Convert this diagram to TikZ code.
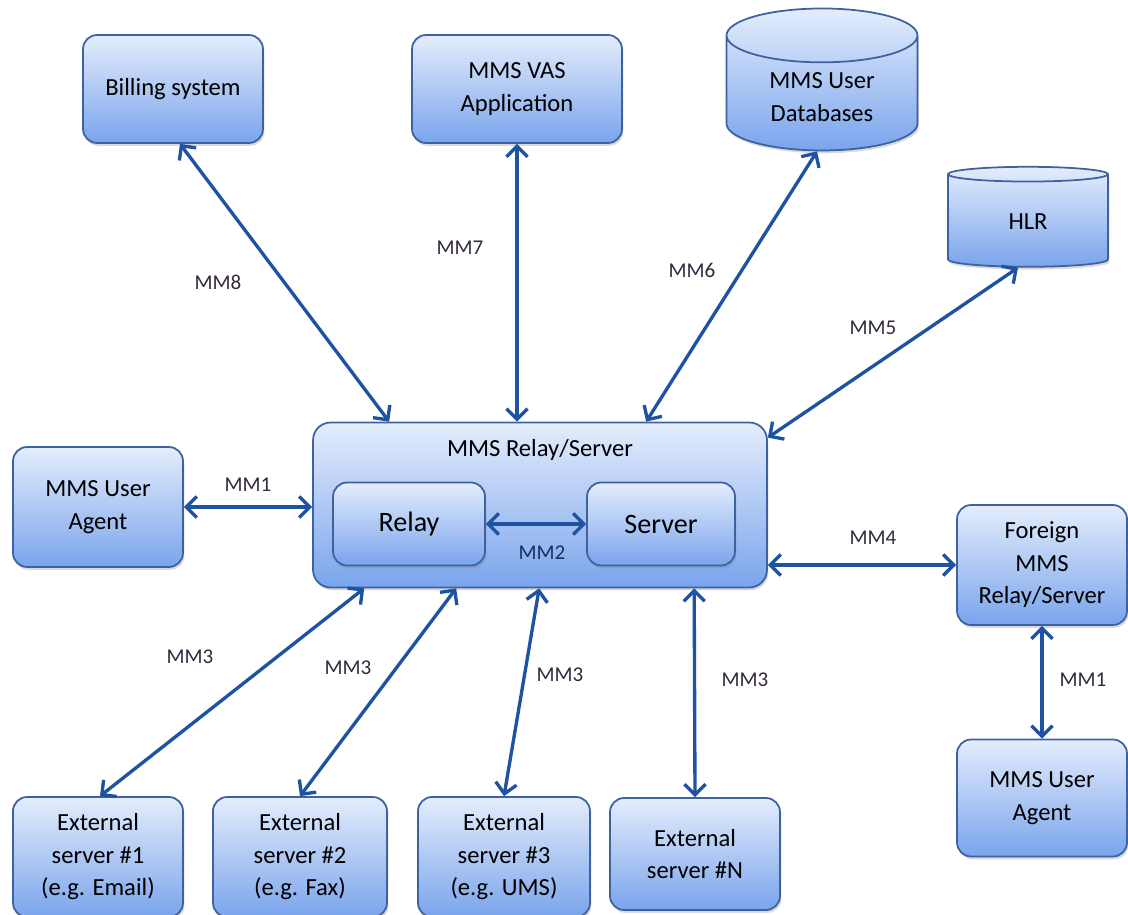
\documentclass[tikz,border=0pt]{standalone}
\usepackage{fontspec}
\setmainfont{Carlito}
\usetikzlibrary{shapes.geometric, arrows.meta, shadows, calc}
\definecolor{boxtop}{RGB}{228,237,252}
\definecolor{boxbot}{RGB}{122,164,236}
\definecolor{boxline}{RGB}{62,98,160}
\definecolor{linkblue}{RGB}{30,82,162}
\definecolor{tagink}{RGB}{52,40,62}
\tikzset{
  font=\fontsize{14}{18.5}\selectfont,           % box text
  unit/.style       = {rectangle, rounded corners=8pt, draw=boxline,
                       line width=1pt, top color=boxtop, bottom color=boxbot,
                       align=center, inner sep=2pt,
                       drop shadow={opacity=0.3, shadow xshift=0.8pt, shadow yshift=-1.6pt}},
  store/.style      = {cylinder, shape border rotate=90, draw=boxline,
                       line width=1pt, top color=boxtop, bottom color=boxbot,
                       align=center, inner sep=2pt,
                       drop shadow={opacity=0.3, shadow xshift=0.8pt, shadow yshift=-1.6pt}},
  link/.style       = {{Straight Barb[length=6pt,width=12pt]}-{Straight Barb[length=6pt,width=12pt]},
                       line width=1.9pt, draw=linkblue},
  tag/.style        = {font=\fontsize{12}{14}\selectfont, text=tagink}
}

\begin{document}
\begin{tikzpicture}[x=0.02cm, y=-0.02cm]
  \useasboundingbox (0,0) rectangle (1128,915);
  % top row
  \node[unit, minimum width=3.6cm, minimum height=2.16cm] (bill) at (173,89) {Billing system};
  \node[unit, minimum width=4.2cm, minimum height=2.16cm] (vas) at (517,89) {MMS VAS\\Application};
  \node[store, minimum width=3.82cm, minimum height=2.84cm, aspect=0.48] (db) at (822,97) {MMS User\\Databases};
  \node[store, minimum width=3.2cm, minimum height=2.0cm, aspect=0.32] (hlr) at (1028,222) {HLR};
  % relay/server
  \node[unit, rounded corners=10pt, minimum width=9.08cm, minimum height=3.3cm] (mmsc) at (540,505) {};
  \node (title) at (540,450) {MMS Relay/Server};
  \node[unit, font=\fontsize{16}{19}\selectfont, minimum width=3.04cm, minimum height=1.66cm] (relay) at (409,524) {Relay};
  \node[unit, font=\fontsize{16}{19}\selectfont, minimum width=2.96cm, minimum height=1.66cm] (server) at (661,524) {Server};
  \node[unit, minimum width=3.4cm, minimum height=2.4cm] (ua) at (98,507) {MMS User\\Agent};
  \node[unit, minimum width=3.4cm, minimum height=2.4cm] (foreign) at (1042,565) {Foreign\\MMS\\Relay/Server};
  \node[unit, minimum width=3.4cm, minimum height=2.34cm] (ua2) at (1042,798) {MMS User\\Agent};
  % external servers
  \node[unit, minimum width=3.4cm, minimum height=2.4cm] (ext1) at (98,857) {External\\server \#1\\(e.g. Email)};
  \node[unit, minimum width=3.48cm, minimum height=2.4cm] (ext2) at (300,857) {External\\server \#2\\(e.g. Fax)};
  \node[unit, minimum width=3.44cm, minimum height=2.4cm] (ext3) at (504,857) {External\\server \#3\\(e.g. UMS)};
  \node[unit, minimum width=3.4cm, minimum height=2.24cm] (extN) at (695,854) {External\\server \#N};

  \draw[link] ($(bill.south)+(7,0)$) -- ($(mmsc.north west)+(77,0)$);
  \draw[link] (vas.south) -- (vas.south |- mmsc.north);
  \draw[link] ($(db.south)+(-5,0)$) -- ($(mmsc.north west)+(334,0)$);
  \draw[link] ($(hlr.south)+(-10,0)$) -- ($(mmsc.north east)+(0,16)$);
  \draw[link] (ua.east) -- (ua.east -| mmsc.west);
  \draw[link] (relay.east) -- (server.west);
  \draw[link] (foreign.west -| mmsc.east) -- (foreign.west);
  \draw[link] (foreign.south) -- (ua2.north);
  \draw[link] ($(mmsc.south west)+(52,0)$) -- ($(ext1.north)+(2,0)$);
  \draw[link] ($(mmsc.south west)+(144,0)$) -- (ext2.north);
  \draw[link] ($(mmsc.south west)+(227,0)$) -- (ext3.north);
  \draw[link] ($(mmsc.south west)+(382,0)$) -- (extN.north);

  \node[tag] (t8) at (218,282) {MM8};
  \node[tag] (t7) at (460,248) {MM7};
  \node[tag] (t6) at (692,270) {MM6};
  \node[tag] (t5) at (873,328) {MM5};
  \node[tag] (t1) at (248,485) {MM1};
  \node[tag, text=linkblue!60!black] (t2) at (542,553) {MM2};
  \node[tag] (t4) at (873,538) {MM4};
  \node[tag] (t3a) at (190,657) {MM3};
  \node[tag] (t3b) at (348,668) {MM3};
  \node[tag] (t3c) at (560,675) {MM3};
  \node[tag] (t3d) at (745,680) {MM3};
  \node[tag] (t1b) at (1083,680) {MM1};
\end{tikzpicture}
\end{document}
